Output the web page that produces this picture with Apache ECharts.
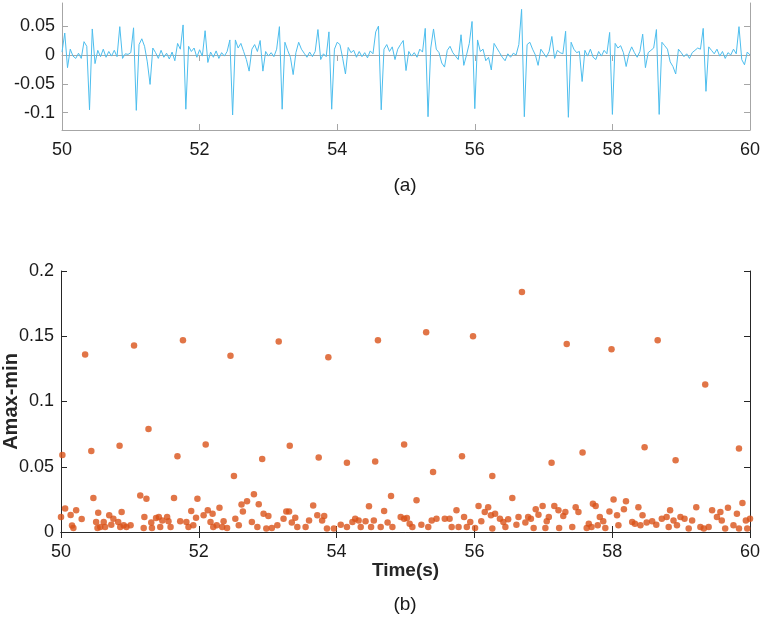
<!DOCTYPE html>
<html>
<head>
<meta charset="utf-8">
<script src="https://cdn.jsdelivr.net/npm/echarts@6/dist/echarts.min.js"></script>
<style>
html,body{margin:0;padding:0;background:#fff;}
#chart{width:765px;height:635px;}
</style>
</head>
<body>
<div id="chart"></div>
<script>
// ---- Panel (a): ECG-like signal, sampled from t = 50 s every 0.04 s ----
const ecgStart = 50;
const ecgStep = 0.04;
const ecgValues = [
  0.005, 0.038, -0.022, 0.010, -0.002, -0.006, 0.003, -0.006, 0.023, 0.015,
  -0.095, 0.045, -0.015, 0.008, -0.003, 0.010, -0.004, 0.006, -0.002, 0.008,
  -0.003, 0.049, -0.006, 0.002, 0.001, 0.004, 0.047, -0.096, 0.018, 0.028,
  0.015, -0.012, -0.051, 0.012, 0.004, -0.006, 0.008, -0.004, 0.003, -0.007,
  0.005, -0.010, 0.020, 0.010, 0.052, -0.094, 0.015, 0.006, 0.012, -0.004,
  0.009, -0.002, 0.042, -0.013, 0.005, -0.004, 0.007, -0.006, 0.004, -0.002,
  0.006, 0.026, -0.104, 0.026, 0.012, 0.020, 0.006, -0.008, -0.028, 0.010,
  0.018, 0.006, 0.025, -0.028, 0.006, -0.002, 0.004, -0.003, 0.010, 0.049,
  -0.094, 0.022, 0.008, -0.004, -0.034, 0.004, 0.022, 0.010, 0.003, -0.004,
  0.005, -0.003, 0.006, 0.044, -0.008, 0.002, -0.003, 0.040, -0.094, 0.010,
  0.022, 0.018, -0.006, -0.033, 0.013, 0.004, 0.008, -0.004, 0.006, -0.003,
  0.004, -0.005, 0.007, 0.002, 0.040, 0.050, -0.095, 0.010, 0.018, 0.006,
  0.014, -0.008, 0.010, 0.018, 0.025, -0.027, 0.006, -0.002, 0.004, -0.004,
  0.010, 0.005, 0.046, -0.107, 0.012, 0.045, 0.010, 0.004, -0.014, -0.021,
  0.008, 0.015, 0.004, -0.002, -0.008, 0.035, -0.018, 0.000, 0.020, 0.058,
  -0.093, 0.026, 0.006, 0.010, -0.010, -0.004, -0.026, 0.020, 0.012, 0.004,
  -0.004, -0.010, 0.002, -0.004, 0.003, 0.000, 0.018, 0.079, -0.107, 0.018,
  0.022, 0.010, 0.000, -0.018, 0.010, 0.003, -0.004, 0.006, 0.032, -0.006,
  0.008, 0.004, 0.002, 0.041, -0.108, 0.022, 0.010, 0.004, 0.006, -0.046,
  0.008, -0.002, 0.010, -0.004, -0.008, 0.006, -0.002, 0.008, 0.002, 0.039,
  -0.103, 0.020, 0.012, 0.016, 0.004, -0.020, 0.002, 0.014, 0.004, -0.004,
  0.006, 0.036, -0.022, 0.004, 0.008, 0.012, 0.044, -0.103, 0.022, 0.016,
  0.010, -0.012, -0.020, -0.033, 0.010, 0.004, -0.003, 0.002, -0.006, 0.004,
  0.008, 0.012, 0.010, 0.046, -0.063, 0.014, 0.008, 0.002, 0.010, -0.002,
  0.006, -0.006, 0.004, 0.000, 0.010, 0.002, 0.049, -0.008, -0.017, 0.005,
  0.000
];
const ecgTicksY = [-0.1, -0.05, 0, 0.05];

// ---- Panel (b): Amax-min scatter ----
const ampTimes = [
  50.02, 50.35, 50.44, 50.85, 51.06, 51.27, 51.69, 51.77, 52.10, 52.46, 52.51, 52.92,
  53.16, 53.32, 53.74, 53.88, 54.15, 54.56, 54.60, 54.98, 55.30, 55.40, 55.82, 55.98,
  56.26, 56.69, 57.12, 57.34, 57.57, 57.99, 58.47, 58.66, 58.92, 59.35, 59.84,
  50.00, 50.06, 50.14, 50.22, 50.30, 50.16, 50.18, 50.47, 50.54, 50.51, 50.57, 50.62,
  50.64, 50.53, 50.70, 50.73, 50.76, 50.83, 50.88, 50.86, 50.91, 50.95, 51.01, 51.15,
  51.24, 51.21, 51.20, 51.31, 51.32, 51.38, 51.42, 51.47, 51.44, 51.54, 51.56, 51.59,
  51.64, 51.73, 51.82, 51.85, 51.89, 51.92, 51.96, 51.98, 52.07, 52.13, 52.17, 52.20,
  52.21, 52.26, 52.30, 52.34, 52.36, 52.41, 52.53, 52.58, 52.62, 52.64, 52.70, 52.80,
  52.77, 52.85, 52.87, 52.94, 53.01, 52.98, 53.06, 53.14, 53.23, 53.27, 53.31, 53.35,
  53.40, 53.43, 53.55, 53.60, 53.66, 53.72, 53.79, 53.82, 53.86, 53.96, 54.06, 54.15,
  54.23, 54.27, 54.32, 54.35, 54.42, 54.47, 54.50, 54.54, 54.64, 54.69, 54.74, 54.79,
  54.81, 54.93, 54.98,
  55.02, 55.06, 55.10, 55.16, 55.23, 55.33, 55.38, 55.45, 55.57, 55.64, 55.67, 55.74,
  55.77, 55.85, 55.89, 55.94, 56.01, 56.06, 56.10, 56.15, 56.20, 56.24, 56.26, 56.30,
  56.37, 56.42, 56.45, 56.49, 56.55, 56.64, 56.61, 56.74, 56.78, 56.82, 56.86, 56.89,
  56.93, 56.99, 57.05, 57.08, 57.03, 57.16, 57.22, 57.23, 57.29, 57.32, 57.42, 57.47,
  57.51, 57.63, 57.66, 57.72, 57.76, 57.70, 57.79, 57.82, 57.87, 57.90, 57.96, 58.02,
  58.07, 58.09, 58.17, 58.20, 58.29, 58.33, 58.38, 58.41, 58.44, 58.50, 58.58, 58.64,
  58.72, 58.79, 58.84, 58.82, 58.89, 58.94, 58.99, 59.05, 59.11, 59.16, 59.22, 59.28,
  59.33, 59.40, 59.45, 59.52, 59.57, 59.59, 59.64, 59.68, 59.76, 59.81, 59.84, 59.89,
  59.94, 59.96, 60.00
];
const ampValues = [
  0.059, 0.136, 0.062, 0.066, 0.143, 0.079, 0.058, 0.147, 0.067, 0.135, 0.043, 0.056,
  0.146, 0.066, 0.057, 0.134, 0.053, 0.054, 0.147, 0.067, 0.153, 0.046, 0.058, 0.150,
  0.043, 0.184, 0.053, 0.144, 0.061, 0.140, 0.065, 0.147, 0.055, 0.113, 0.064,
  0.0115, 0.018, 0.013, 0.0166, 0.010, 0.005, 0.003, 0.026, 0.0148, 0.0077, 0.0038, 0.0077,
  0.0038, 0.003, 0.0128, 0.0056, 0.0102, 0.0077, 0.0153, 0.0038, 0.0051, 0.0038, 0.0051, 0.028,
  0.0255, 0.0115, 0.003, 0.0072, 0.003, 0.0107, 0.0115, 0.0089, 0.0038, 0.0115, 0.0082, 0.0038,
  0.026, 0.0082, 0.0077, 0.0038, 0.016, 0.0051, 0.011, 0.0255, 0.0128, 0.0166, 0.0077, 0.014,
  0.0038, 0.0051, 0.0186, 0.0038, 0.0082, 0.003, 0.0102, 0.0051, 0.021, 0.0158, 0.0235, 0.029,
  0.0077, 0.0038, 0.0212, 0.014, 0.0123, 0.0026, 0.003, 0.0051, 0.0102, 0.0158, 0.0158, 0.0072,
  0.011, 0.0038, 0.0038, 0.0089, 0.0204, 0.0128, 0.0089, 0.0123, 0.0026, 0.0026, 0.0056, 0.0038,
  0.0077, 0.0102, 0.0089, 0.0038, 0.0082, 0.0197, 0.0038, 0.0089, 0.0038, 0.016, 0.0072, 0.0276,
  0.0038, 0.0115, 0.0102,
  0.0107, 0.0064, 0.0038, 0.0243, 0.0056, 0.0038, 0.0089, 0.0102, 0.0102, 0.0102, 0.0038, 0.0166,
  0.0038, 0.0115, 0.0038, 0.0077, 0.003, 0.0199, 0.0082, 0.0153, 0.019, 0.0128, 0.0026, 0.014,
  0.0102, 0.0077, 0.0038, 0.0097, 0.026, 0.0115, 0.0056, 0.0072, 0.0115, 0.0102, 0.003, 0.0174,
  0.0133, 0.0199, 0.0082, 0.0115, 0.003, 0.0199, 0.0166, 0.003, 0.0123, 0.0153, 0.0038, 0.019,
  0.0153, 0.003, 0.0064, 0.0217, 0.0199, 0.0038, 0.0051, 0.0115, 0.0082, 0.003, 0.0158, 0.025,
  0.0128, 0.0051, 0.0174, 0.0235, 0.0077, 0.0064, 0.019, 0.0051, 0.0128, 0.0072, 0.0082, 0.0056,
  0.0102, 0.0115, 0.0166, 0.0038, 0.0089, 0.0051, 0.0115, 0.0102, 0.0026, 0.0089, 0.019, 0.0038,
  0.0026, 0.0038, 0.0166, 0.0115, 0.0153, 0.0089, 0.0026, 0.0186, 0.0051, 0.014, 0.0026, 0.0222,
  0.0089, 0.0026, 0.0102
];

const ecgData = ecgValues.map((v, i) => [ecgStart + i * ecgStep, v]);
const ampData = ampTimes.map((t, i) => [t, ampValues[i]]);

const FONT = 'Liberation Sans, Arial, sans-serif';
const labelStyle = { color: '#1a1a1a', fontSize: 18, fontFamily: FONT };

function mirrorX(gridIndex, lineColor, min, max, interval) {
  return {
    type: 'value', gridIndex, position: 'top', min, max, interval,
    axisLine: { show: true, lineStyle: { color: lineColor, width: 1 } },
    axisTick: { show: true, inside: true, length: 6, lineStyle: { color: lineColor } },
    axisLabel: { show: false }, splitLine: { show: false }
  };
}

const option = {
  backgroundColor: '#ffffff',
  animation: false,
  grid: [
    { left: 62, right: 15, top: 3, height: 127, containLabel: false, outerBoundsMode: 'none' },
    { left: 61, right: 15, top: 271, height: 261, containLabel: false, outerBoundsMode: 'none' }
  ],
  xAxis: [
    {
      type: 'value', gridIndex: 0, min: 50, max: 60, interval: 2,
      axisLine: { show: true, onZero: false, lineStyle: { color: '#a6a6a6', width: 1 } },
      axisTick: { show: true, inside: true, length: 6, lineStyle: { color: '#a6a6a6' } },
      axisLabel: Object.assign({ margin: 11 }, labelStyle),
      splitLine: { show: false }
    },
    mirrorX(0, '#a6a6a6', 50, 60, 2),
    {
      type: 'value', gridIndex: 1, min: 50, max: 60, interval: 2,
      name: 'Time(s)', nameLocation: 'middle', nameGap: 29, nameMoveOverlap: false,
      nameTextStyle: { color: '#262626', fontSize: 19, fontWeight: 'bold', fontFamily: FONT },
      axisLine: { show: true, onZero: false, lineStyle: { color: '#262626', width: 1 } },
      axisTick: { show: true, inside: true, length: 6, lineStyle: { color: '#262626' } },
      axisLabel: Object.assign({ margin: 11 }, labelStyle),
      splitLine: { show: false }
    },
    mirrorX(1, '#262626', 50, 60, 2)
  ],
  yAxis: [
    {
      type: 'value', gridIndex: 0, min: -0.13, max: 0.09,
      axisLine: { show: true, onZero: false, lineStyle: { color: '#a6a6a6', width: 1 } },
      axisTick: { show: true, inside: true, length: 6, customValues: ecgTicksY, lineStyle: { color: '#a6a6a6' } },
      axisLabel: Object.assign({ margin: 7, customValues: ecgTicksY }, labelStyle),
      splitLine: { show: false }
    },
    {
      type: 'value', gridIndex: 0, position: 'right', min: -0.13, max: 0.09,
      axisLine: { show: true, onZero: false, lineStyle: { color: '#a6a6a6', width: 1 } },
      axisTick: { show: true, inside: true, length: 6, customValues: ecgTicksY, lineStyle: { color: '#a6a6a6' } },
      axisLabel: { show: false }, splitLine: { show: false }
    },
    {
      type: 'value', gridIndex: 1, min: 0, max: 0.2, interval: 0.05,
      name: 'Amax-min', nameLocation: 'middle', nameGap: 40, nameMoveOverlap: false,
      nameTextStyle: { color: '#262626', fontSize: 20, fontWeight: 'bold', fontFamily: FONT },
      axisLine: { show: true, onZero: false, lineStyle: { color: '#262626', width: 1 } },
      axisTick: { show: true, inside: true, length: 6, lineStyle: { color: '#262626' } },
      axisLabel: Object.assign({ margin: 7 }, labelStyle),
      splitLine: { show: false }
    },
    {
      type: 'value', gridIndex: 1, position: 'right', min: 0, max: 0.2, interval: 0.05,
      axisLine: { show: true, onZero: false, lineStyle: { color: '#262626', width: 1 } },
      axisTick: { show: true, inside: true, length: 6, lineStyle: { color: '#262626' } },
      axisLabel: { show: false }, splitLine: { show: false }
    }
  ],
  graphic: [
    { type: 'text', x: 405, y: 186, style: { text: '(a)', fill: '#1a1a1a', font: '19px ' + FONT, textAlign: 'center', textVerticalAlign: 'middle' } },
    { type: 'text', x: 405, y: 605, style: { text: '(b)', fill: '#1a1a1a', font: '19px ' + FONT, textAlign: 'center', textVerticalAlign: 'middle' } }
  ],
  series: [
    {
      type: 'line', xAxisIndex: 0, yAxisIndex: 0, data: ecgData,
      showSymbol: false, symbol: 'none', smooth: false,
      lineStyle: { color: '#4DBEEE', width: 1 }
    },
    {
      type: 'scatter', xAxisIndex: 2, yAxisIndex: 2, data: ampData,
      symbol: 'circle', symbolSize: 6.5,
      itemStyle: { color: '#D95319' }
    }
  ]
};

const chart = echarts.init(document.getElementById('chart'), null, { renderer: 'canvas' });
chart.setOption(option);
</script>
</body>
</html>
